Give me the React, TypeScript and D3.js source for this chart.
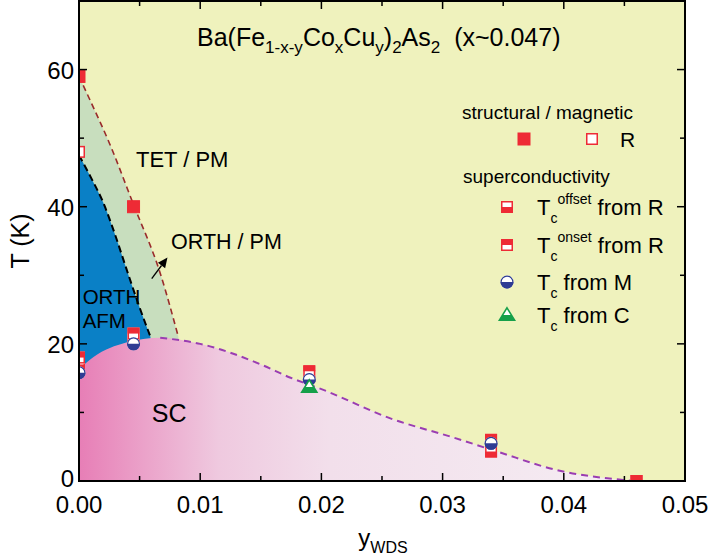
import React from 'react';
import * as d3 from 'd3';

// ---------- data ----------
const xTickValues = [0, 0.01, 0.02, 0.03, 0.04, 0.05];
const xTickLabels = ['0.00', '0.01', '0.02', '0.03', '0.04', '0.05'];
const xMinorTicks = [0.005, 0.015, 0.025, 0.035, 0.045];
const yTickValues = [0, 20, 40, 60];
const yTickLabels = ['0', '20', '40', '60'];
const yMinorTicks = [10, 30, 50];

// phase boundaries
const structuralX = [0, 0.001, 0.0025, 0.0045, 0.0067, 0.0082];
const structuralT = [59, 55.2, 49.3, 40.3, 30.3, 21];
const magneticX = [0, 0.001, 0.002, 0.003, 0.0039, 0.005, 0.0059];
const magneticT = [47.5, 44.2, 40.6, 35.8, 31, 25.3, 21];
const domeX = [0, 0.0012, 0.0039, 0.0067, 0.01, 0.015, 0.0174, 0.02, 0.0259, 0.0306, 0.0345, 0.0394, 0.0449, 0.0458];
const domeT = [16.3, 18.1, 20.2, 20.9, 20, 17, 15.1, 13.4, 9, 6.5, 4.3, 1.6, 0.15, 0];

// measured points
const structX = [0, 0.0045];
const structT = [59, 40];
const magOpenX = [0];
const magOpenT = [48];
const tcX = [0, 0.0045, 0.019, 0.034, 0.046];
const tcOnsetT = [18, 21.5, 16, 6, 0];
const tcOffsetT = [17, 20.8, 15.3, 4.3, 0];
const tcMX = [0, 0.0045, 0.019, 0.034];
const tcMT = [15.8, 20, 14.8, 5.5];
const tcCX = [0.019];
const tcCT = [13.7];

// ---------- styles ----------
const RED = '#EE2B35';
const BLUE_M = '#2E3C94';
const GREEN_C = '#16A04A';
const BG = '#EFF2BD';
const GREEN_REGION = '#C8DEBE';
const BLUE_REGION = '#0A80C6';
const FONT = '"Liberation Sans", Arial, Helvetica, sans-serif';

const L = 79, R = 685, T = 1, B = 481;

const x = d3.scaleLinear().domain([0, 0.05]).range([L, R]);
const y = d3.scaleLinear().domain([0, 70]).range([B, T]);

const zip = (xs: number[], ts: number[]) => xs.map((v, i) => [v, ts[i]] as [number, number]);

const lineGen = d3.line<[number, number]>().x(d => x(d[0])).y(d => y(d[1])).curve(d3.curveMonotoneX);
const areaGen = d3.area<[number, number]>().x(d => x(d[0])).y0(y(0)).y1(d => y(d[1])).curve(d3.curveMonotoneX);

const SQ = 12;

function SquareFull({ cx, cy }: { cx: number; cy: number }) {
  return <rect x={cx - SQ / 2} y={cy - SQ / 2} width={SQ} height={SQ} fill={RED} stroke={RED} strokeWidth={1} />;
}
function SquareOpen({ cx, cy }: { cx: number; cy: number }) {
  return <rect x={cx - SQ / 2 + 0.75} y={cy - SQ / 2 + 0.75} width={SQ - 1.5} height={SQ - 1.5} fill="#fff" stroke={RED} strokeWidth={1.5} />;
}
function SquareHalf({ cx, cy, top }: { cx: number; cy: number; top: boolean }) {
  return (
    <g>
      <rect x={cx - SQ / 2} y={cy - SQ / 2} width={SQ} height={SQ} fill="#fff" />
      <rect x={cx - SQ / 2} y={top ? cy - SQ / 2 : cy} width={SQ} height={SQ / 2} fill={RED} />
      <rect x={cx - SQ / 2 + 0.75} y={cy - SQ / 2 + 0.75} width={SQ - 1.5} height={SQ - 1.5} fill="none" stroke={RED} strokeWidth={1.5} />
    </g>
  );
}
function CircleHalf({ cx, cy }: { cx: number; cy: number }) {
  const r = 6.5;
  return (
    <g>
      <circle cx={cx} cy={cy} r={r} fill="#fff" />
      <path d={`M${cx - r},${cy} A${r},${r} 0 0 0 ${cx + r},${cy} Z`} fill={BLUE_M} />
      <circle cx={cx} cy={cy} r={r - 0.6} fill="none" stroke={BLUE_M} strokeWidth={1.2} />
    </g>
  );
}
function TriangleHalf({ cx, cy }: { cx: number; cy: number }) {
  const s = 8;
  const top = cy - s * 0.9, bot = cy + s * 0.65;
  const mid = (top + bot) / 2 + 1;
  const hw = s * 0.95;
  const wAtMid = hw * (mid - top) / (bot - top);
  return (
    <g>
      <path d={`M${cx},${top} L${cx + hw},${bot} L${cx - hw},${bot} Z`} fill="#fff" />
      <path d={`M${cx - wAtMid},${mid} L${cx + wAtMid},${mid} L${cx + hw},${bot} L${cx - hw},${bot} Z`} fill={GREEN_C} />
      <path d={`M${cx},${top} L${cx + hw},${bot} L${cx - hw},${bot} Z`} fill="none" stroke={GREEN_C} strokeWidth={1.6} strokeLinejoin="miter" />
    </g>
  );
}

export default function App() {
  const structural = zip(structuralX, structuralT);
  const magnetic = zip(magneticX, magneticT);
  const dome = zip(domeX, domeT);
  const greenPath = lineGen(structural) + `L${x(structuralX[structuralX.length - 1])},${y(0)}L${x(0)},${y(0)}Z`;
  const bluePath = lineGen(magnetic) + `L${x(magneticX[magneticX.length - 1])},${y(0)}L${x(0)},${y(0)}Z`;
  const domeArea = areaGen(dome) as string;
  const domeDashed = lineGen(dome.filter(d => d[0] >= 0.0058)) as string;

  const tickLen = 8, minorLen = 5;
  const arrowFrom = [x(0.006), y(29.5)];
  const arrowTo = [x(0.0073), y(32.6)];
  const ang = Math.atan2(arrowTo[1] - arrowFrom[1], arrowTo[0] - arrowFrom[0]);
  const ah = 10, aw = 4.5;
  const tip = arrowTo;
  const base = [tip[0] - ah * Math.cos(ang), tip[1] - ah * Math.sin(ang)];
  const arrowHead = `M${tip[0]},${tip[1]} L${base[0] + aw * Math.sin(ang)},${base[1] - aw * Math.cos(ang)} L${base[0] - aw * Math.sin(ang)},${base[1] + aw * Math.cos(ang)} Z`;

  const legendX = 507;
  const rows = [207, 245, 282, 315];

  return (
    <svg width={712} height={558} style={{ position: 'absolute', left: 0, top: 0 }} fontFamily={FONT}>
      <defs>
        <clipPath id="plotClip">
          <rect x={L} y={T} width={R - L} height={B - T} />
        </clipPath>
        <linearGradient id="pinkGrad" gradientUnits="userSpaceOnUse" x1={x(0)} x2={x(0.046)} y1={0} y2={0}>
          <stop offset="0" stopColor="#E77EB6" />
          <stop offset="0.12" stopColor="#EBA3CA" />
          <stop offset="0.25" stopColor="#EFC9DF" />
          <stop offset="0.45" stopColor="#F2DFEB" />
          <stop offset="1" stopColor="#F5EDF3" />
        </linearGradient>
      </defs>
      <rect x={0} y={0} width={712} height={558} fill="#fff" />
      <g clipPath="url(#plotClip)">
        <rect x={L} y={T} width={R - L} height={B - T} fill={BG} />
        <path d={greenPath} fill={GREEN_REGION} />
        <path d={bluePath} fill={BLUE_REGION} />
        <path d={domeArea} fill="url(#pinkGrad)" />
        <path d={lineGen(structural) as string} fill="none" stroke="#9A2B2B" strokeWidth={1.6} strokeDasharray="6,4" />
        <path d={lineGen(magnetic) as string} fill="none" stroke="#000" strokeWidth={2} strokeDasharray="7,4" />
        <path d={domeDashed} fill="none" stroke="#9A3DB2" strokeWidth={2} strokeDasharray="7,5" />

        {/* region labels */}
        <text x={x(0.0047)} y={y(45.8)} fontSize={22}>TET / PM</text>
        <text x={x(0.0076)} y={y(33.9)} fontSize={21.5}>ORTH / PM</text>
        <text x={x(0.0003)} y={y(25.8)} fontSize={20.5}>ORTH</text>
        <text x={x(0.0003)} y={y(22.3)} fontSize={20.5}>AFM</text>
        <text x={x(0.006)} y={y(8.6)} fontSize={25}>SC</text>
        <line x1={arrowFrom[0]} y1={arrowFrom[1]} x2={base[0]} y2={base[1]} stroke="#000" strokeWidth={1.3} />
        <path d={arrowHead} fill="#000" />

        {/* markers */}
        {structX.map((v, i) => <SquareFull key={'s' + i} cx={x(v)} cy={y(structT[i])} />)}
        {magOpenX.map((v, i) => <SquareOpen key={'m' + i} cx={x(v)} cy={y(magOpenT[i])} />)}
        {tcX.map((v, i) => <SquareHalf key={'off' + i} cx={x(v)} cy={y(tcOffsetT[i])} top={false} />)}
        {tcX.map((v, i) => <SquareHalf key={'on' + i} cx={x(v)} cy={y(tcOnsetT[i])} top={true} />)}
        {tcMX.map((v, i) => <CircleHalf key={'c' + i} cx={x(v)} cy={y(tcMT[i])} />)}
        {tcCX.map((v, i) => <TriangleHalf key={'t' + i} cx={x(v)} cy={y(tcCT[i])} />)}
      </g>

      {/* frame */}
      <rect x={L} y={T} width={R - L} height={B - T} fill="none" stroke="#000" strokeWidth={2} />

      {/* x ticks */}
      {xTickValues.map((v, i) => (
        <g key={'xt' + i}>
          <line x1={x(v)} x2={x(v)} y1={B} y2={B - tickLen} stroke="#000" strokeWidth={1.5} />
          <line x1={x(v)} x2={x(v)} y1={T} y2={T + tickLen} stroke="#000" strokeWidth={1.5} />
          <text x={x(v)} y={B + 32} fontSize={24} textAnchor="middle">{xTickLabels[i]}</text>
        </g>
      ))}
      {xMinorTicks.map((v, i) => (
        <g key={'xm' + i}>
          <line x1={x(v)} x2={x(v)} y1={B} y2={B - minorLen} stroke="#000" strokeWidth={1.5} />
          <line x1={x(v)} x2={x(v)} y1={T} y2={T + minorLen} stroke="#000" strokeWidth={1.5} />
        </g>
      ))}
      {yTickValues.map((v, i) => (
        <g key={'yt' + i}>
          <line x1={L} x2={L + tickLen} y1={y(v)} y2={y(v)} stroke="#000" strokeWidth={1.5} />
          <line x1={R} x2={R - tickLen} y1={y(v)} y2={y(v)} stroke="#000" strokeWidth={1.5} />
          <text x={L - 5} y={y(v) + (v === 0 ? 6 : 9)} fontSize={24} textAnchor="end">{yTickLabels[i]}</text>
        </g>
      ))}
      {yMinorTicks.map((v, i) => (
        <g key={'ym' + i}>
          <line x1={L} x2={L + minorLen} y1={y(v)} y2={y(v)} stroke="#000" strokeWidth={1.5} />
          <line x1={R} x2={R - minorLen} y1={y(v)} y2={y(v)} stroke="#000" strokeWidth={1.5} />
        </g>
      ))}

      {/* axis labels */}
      <text x={383} y={546} fontSize={24} textAnchor="middle">
        y<tspan fontSize={16} dy={7}>WDS</tspan>
      </text>
      <text transform="translate(29,241) rotate(-90)" fontSize={25} textAnchor="middle">T (K)</text>

      {/* title */}
      <text x={197} y={46} fontSize={25}>
        Ba(Fe<tspan fontSize={17} dy={7}>1-x-y</tspan>
        <tspan dy={-7}>Co</tspan><tspan fontSize={17} dy={7}>x</tspan>
        <tspan dy={-7}>Cu</tspan><tspan fontSize={17} dy={7}>y</tspan>
        <tspan dy={-7}>)</tspan><tspan fontSize={17} dy={7}>2</tspan>
        <tspan dy={-7}>As</tspan><tspan fontSize={17} dy={7}>2</tspan>
        <tspan dy={-7}>{'\u00a0\u00a0(x~0.047)'}</tspan>
      </text>

      {/* legend */}
      <text x={462} y={119} fontSize={19}>structural / magnetic</text>
      <SquareFull cx={524} cy={139} />
      <SquareOpen cx={592} cy={139} />
      <text x={620} y={147} fontSize={21}>R</text>
      <text x={463} y={183} fontSize={19}>superconductivity</text>

      <SquareHalf cx={legendX} cy={rows[0]} top={false} />
      <text x={537} y={rows[0] + 8} fontSize={22}>T<tspan fontSize={14} dy={8}>c</tspan><tspan fontSize={14} dy={-19}>offset</tspan><tspan dy={11}> from R</tspan></text>
      <SquareHalf cx={legendX} cy={rows[1]} top={true} />
      <text x={537} y={rows[1] + 8} fontSize={22}>T<tspan fontSize={14} dy={8}>c</tspan><tspan fontSize={14} dy={-19}>onset</tspan><tspan dy={11}> from R</tspan></text>
      <CircleHalf cx={legendX} cy={rows[2]} />
      <text x={537} y={rows[2] + 8} fontSize={22}>T<tspan fontSize={14} dy={8}>c</tspan><tspan dy={-8}> from M</tspan></text>
      <TriangleHalf cx={legendX} cy={rows[3]} />
      <text x={537} y={rows[3] + 8} fontSize={22}>T<tspan fontSize={14} dy={8}>c</tspan><tspan dy={-8}> from C</tspan></text>
    </svg>
  );
}
